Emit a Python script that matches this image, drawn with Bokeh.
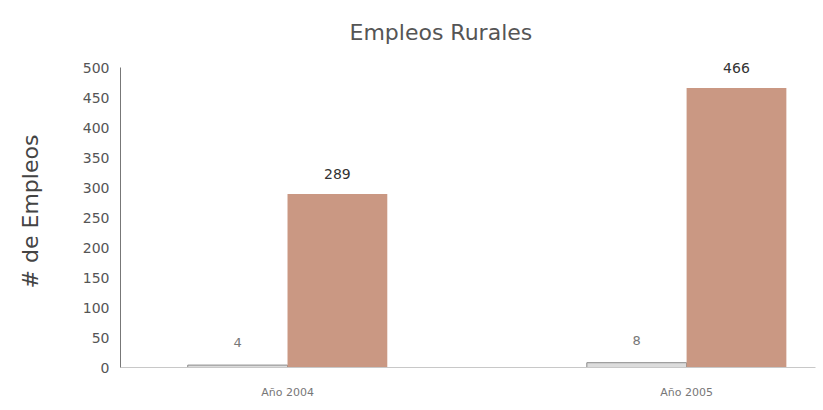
from bokeh.plotting import figure
from bokeh.models import ColumnDataSource, Range1d, FixedTicker, LabelSet
from bokeh.transform import dodge
from bokeh.embed import file_html
from bokeh.resources import INLINE
from bokeh.core.properties import value

years = ["Año 2004", "Año 2005"]
empleos_a = [4, 8]
empleos_b = [289, 466]
y_ticks = [0, 50, 100, 150, 200, 250, 300, 350, 400, 450, 500]

idx = list(range(len(years)))
src = ColumnDataSource(dict(
    x=idx, a=empleos_a, b=empleos_b,
    la=[str(v) for v in empleos_a], lb=[str(v) for v in empleos_b],
))

p = figure(width=820, height=402, output_backend="svg", toolbar_location=None,
           x_range=Range1d(-0.4185, 1.323), y_range=Range1d(0, 520),
           min_border_left=120, min_border_right=5, min_border_top=55,
           min_border_bottom=35)

p.title.text = "Empleos Rurales"
p.title.align = "left"
p.title.offset = 229
p.title.standoff = 22
p.title.text_font = "DejaVu Sans"
p.title.text_font_style = "normal"
p.title.text_font_size = "22px"
p.title.text_color = "#555555"

p.vbar(x=dodge("x", -0.125, range=p.x_range), top="a", width=0.25, source=src,
       fill_color="#dcdcdc", line_color="#8a8a8a", line_width=1)
p.vbar(x=dodge("x", 0.125, range=p.x_range), top="b", width=0.25, source=src,
       fill_color="#ca9883", line_color=None)

p.add_layout(LabelSet(x=dodge("x", -0.125, range=p.x_range), y="a", text="la", source=src,
                      text_align="center", text_baseline="bottom", y_offset=18,
                      text_font_size="13px", text_color="#777777",
                      text_font=value("DejaVu Sans")))
p.add_layout(LabelSet(x=dodge("x", 0.125, range=p.x_range), y="b", text="lb", source=src,
                      text_align="center", text_baseline="bottom", y_offset=15,
                      text_font_size="14px", text_color="#333333",
                      text_font=value("DejaVu Sans")))

p.xgrid.visible = False
p.ygrid.visible = False
p.outline_line_color = None

p.xaxis.ticker = FixedTicker(ticks=idx)
p.xaxis.major_label_overrides = {i: y for i, y in zip(idx, years)}
p.xaxis.major_tick_line_color = None
p.xaxis.minor_tick_line_color = None
p.xaxis.axis_line_color = "#c8c8c8"
p.xaxis.major_label_text_font = "DejaVu Sans"
p.xaxis.major_label_text_font_size = "11px"
p.xaxis.major_label_text_color = "#777777"
p.xaxis.major_label_standoff = 12

p.yaxis.ticker = FixedTicker(ticks=y_ticks)
p.yaxis.bounds = (0, 500)
p.yaxis.major_tick_line_color = None
p.yaxis.minor_tick_line_color = None
p.yaxis.axis_line_color = "#777777"
p.yaxis.major_label_text_font = "DejaVu Sans"
p.yaxis.major_label_text_font_size = "14px"
p.yaxis.major_label_text_color = "#555555"
p.yaxis.major_label_standoff = 5
p.yaxis.axis_label = "# de Empleos"
p.yaxis.axis_label_text_font = "DejaVu Sans"
p.yaxis.axis_label_text_font_style = "normal"
p.yaxis.axis_label_text_font_size = "22px"
p.yaxis.axis_label_text_color = "#444444"
p.yaxis.axis_label_standoff = 37

open("out.html", "w").write(file_html(p, INLINE))
